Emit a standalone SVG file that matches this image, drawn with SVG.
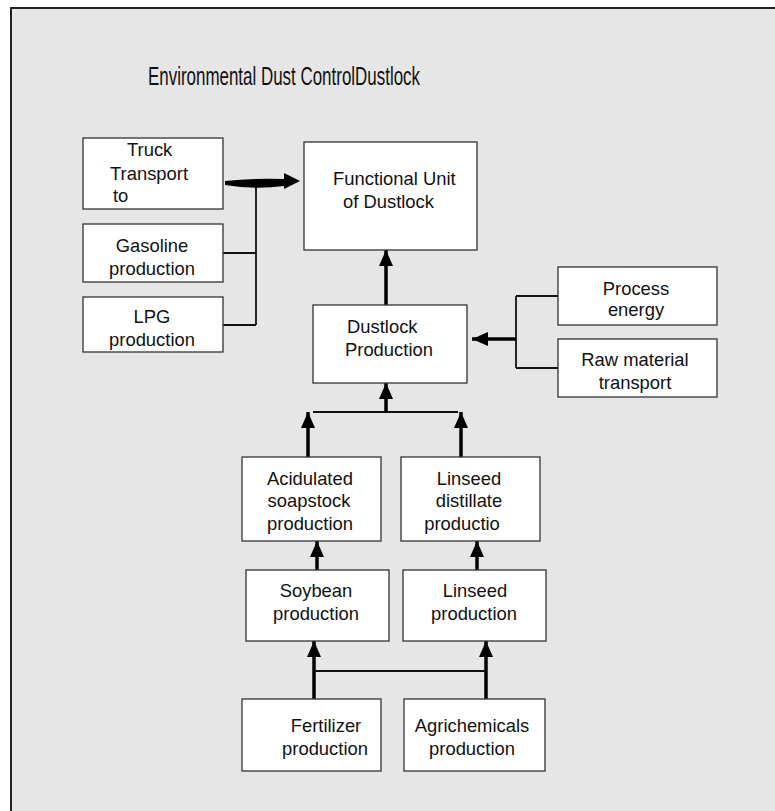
<svg xmlns="http://www.w3.org/2000/svg" width="775" height="811" viewBox="0 0 775 811">
<defs>
<style>
.bx{fill:#ffffff;stroke:#333333;stroke-width:1.3}
.t{font-family:"Liberation Sans",Arial,sans-serif;font-size:18.4px;fill:#111111}
.c{text-anchor:middle}
.thin{fill:none;stroke:#111111;stroke-width:1.8}
.thick{fill:none;stroke:#000000;stroke-width:3.5}
</style>
<marker id="ah" markerUnits="userSpaceOnUse" markerWidth="16" markerHeight="14" viewBox="0 0 16 14" refX="16" refY="7" orient="auto">
<path d="M0,0 L16,7 L0,14 z" fill="#000000"/>
</marker>
</defs>
<rect x="0" y="0" width="775" height="811" fill="#ffffff"/>
<rect x="11" y="8" width="800" height="830" fill="#e6e6e6" stroke="#222222" stroke-width="2"/>
<text x="148" y="85" class="t" style="font-size:26px" textLength="272" lengthAdjust="spacingAndGlyphs">Environmental Dust ControlDustlock</text>

<g id="connectors">
<path class="thin" d="M256,183 V325 M223,253 H256 M223,325 H256"/>
<path d="M225,181 Q255,178 284,179 L284,173 L300,181 L284,189 L284,186 Q255,190 225,185 z" fill="#000000"/>
<line class="thick" x1="386" y1="305" x2="386" y2="250" marker-end="url(#ah)"/>
<path class="thin" d="M516,296 V368 M516,296 H558 M516,368 H558"/>
<line class="thick" x1="516" y1="339" x2="472" y2="339" marker-end="url(#ah)"/>
<path class="thin" d="M313,412 H458"/>
<line class="thick" x1="386" y1="413" x2="386" y2="383" marker-end="url(#ah)"/>
<line class="thick" x1="308" y1="457" x2="308" y2="412" marker-end="url(#ah)"/>
<line class="thick" x1="461" y1="457" x2="461" y2="412" marker-end="url(#ah)"/>
<line class="thick" x1="317" y1="570" x2="317" y2="541" marker-end="url(#ah)"/>
<line class="thick" x1="477" y1="570" x2="477" y2="541" marker-end="url(#ah)"/>
<path class="thin" d="M314,671 H486"/>
<line class="thick" x1="314" y1="699" x2="314" y2="641" marker-end="url(#ah)"/>
<line class="thick" x1="486" y1="699" x2="486" y2="641" marker-end="url(#ah)"/>
</g>

<g id="truck"><rect class="bx" x="83" y="138" width="140" height="71"/>
<text class="t" x="127" y="156">Truck</text><text class="t" x="110" y="180">Transport</text><text class="t" x="113" y="202">to</text></g>
<g id="gasoline"><rect class="bx" x="83" y="224" width="140" height="58"/>
<text class="t c" x="152" y="252">Gasoline</text><text class="t c" x="152" y="275">production</text></g>
<g id="lpg"><rect class="bx" x="83" y="297" width="140" height="55"/>
<text class="t c" x="152" y="323">LPG</text><text class="t c" x="152" y="346">production</text></g>
<g id="functional-unit"><rect class="bx" x="304" y="142" width="173" height="108"/>
<text class="t" x="333" y="185">Functional Unit</text><text class="t" x="343" y="208">of Dustlock</text></g>
<g id="dustlock-production"><rect class="bx" x="313" y="305" width="154" height="78"/>
<text class="t" x="347" y="333">Dustlock</text><text class="t" x="345" y="356">Production</text></g>
<g id="process-energy"><rect class="bx" x="558" y="267" width="159" height="58"/>
<text class="t c" x="636" y="295">Process</text><text class="t c" x="636" y="316">energy</text></g>
<g id="raw-material"><rect class="bx" x="558" y="339" width="159" height="58"/>
<text class="t c" x="635" y="366">Raw material</text><text class="t c" x="635" y="389">transport</text></g>
<g id="acidulated"><rect class="bx" x="242" y="457" width="139" height="84"/>
<text class="t c" x="310" y="485">Acidulated</text><text class="t c" x="309" y="507">soapstock</text><text class="t c" x="310" y="530">production</text></g>
<g id="linseed-distillate"><rect class="bx" x="401" y="457" width="139" height="84"/>
<text class="t c" x="469" y="485">Linseed</text><text class="t c" x="469" y="507">distillate</text><text class="t c" x="462" y="530">productio</text></g>
<g id="soybean"><rect class="bx" x="246" y="570" width="143" height="71"/>
<text class="t c" x="316" y="597">Soybean</text><text class="t c" x="316" y="620">production</text></g>
<g id="linseed"><rect class="bx" x="403" y="570" width="143" height="71"/>
<text class="t c" x="475" y="597">Linseed</text><text class="t c" x="474" y="620">production</text></g>
<g id="fertilizer"><rect class="bx" x="242" y="699" width="139" height="72"/>
<text class="t c" x="326" y="732">Fertilizer</text><text class="t c" x="325" y="755">production</text></g>
<g id="agrichemicals"><rect class="bx" x="404" y="699" width="141" height="72"/>
<text class="t c" x="472" y="732">Agrichemicals</text><text class="t c" x="472" y="755">production</text></g>
</svg>
